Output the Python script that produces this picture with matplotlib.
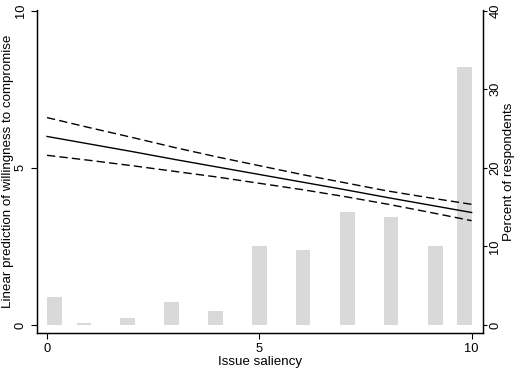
import numpy as np
import matplotlib
matplotlib.use("Agg")
import matplotlib.pyplot as plt

plt.rcParams['font.family'] = ['Liberation Sans', 'DejaVu Sans']

# histogram of issue saliency (percent of respondents), bar centres as drawn
bar_pos = [0.175, 0.87, 1.90, 2.93, 3.97, 5.00, 6.03, 7.07, 8.10, 9.14, 9.825]
pct = [3.6, 0.2, 0.9, 2.9, 1.8, 10.0, 9.6, 14.4, 13.8, 10.0, 32.9]

# linear prediction with confidence band
sal = np.arange(11)
fit = [6.00, 5.76, 5.52, 5.27, 5.03, 4.79, 4.55, 4.31, 4.06, 3.82, 3.58]
upper = [6.60, 6.28, 5.97, 5.65, 5.35, 5.07, 4.79, 4.53, 4.27, 4.05, 3.84]
lower = [5.40, 5.24, 5.07, 4.89, 4.71, 4.51, 4.31, 4.09, 3.85, 3.59, 3.32]

fs = 9.3    # tick labels
lfs = 9.6   # axis titles
fig = plt.figure(figsize=(5.2, 3.74), dpi=100)
ax = fig.add_axes([0.0712, 0.1096, 0.8578, 0.8634])
ax2 = ax.twinx()

# bars behind the lines
ax2.bar(bar_pos, pct, width=0.35, color='#d9d9d9', linewidth=0, zorder=1)
ax2.set_ylim(-1.016, 40.08)
ax2.set_yticks([0, 10, 20, 30, 40])
ax2.set_ylabel('Percent of respondents', fontsize=lfs)
ax2.yaxis.set_label_coords(1.045, 0.5)

ax.set_zorder(ax2.get_zorder() + 1)
ax.patch.set_visible(False)
ax.plot(sal, fit, color='black', lw=1.0)
ax.plot(sal, upper, color='black', lw=1.0, dashes=(6, 3))
ax.plot(sal, lower, color='black', lw=1.0, dashes=(6, 3))
ax.set_xlim(-0.235, 10.27)
ax.set_ylim(-0.254, 10.02)
ax.set_xticks([0, 5, 10])
ax.set_yticks([0, 5, 10])
ax.set_xlabel('Issue saliency', fontsize=lfs)
ax.xaxis.set_label_coords(0.5, -0.072)
ax.set_ylabel('Linear prediction of willingness to compromise', fontsize=lfs)
ax.yaxis.set_label_coords(-0.051, 0.5)

for s in list(ax.spines.values()) + list(ax2.spines.values()):
    s.set_linewidth(0.9)
ax.spines['top'].set_visible(False)
ax2.spines['top'].set_visible(False)
ax.tick_params(direction='out', length=4.3, width=0.8, labelsize=fs, pad=3)
ax2.tick_params(direction='out', length=3, width=0.8, labelsize=fs, pad=1.5)
for lab in ax.get_yticklabels() + ax2.get_yticklabels():
    lab.set_rotation(90)
    lab.set_va('center')

fig.savefig('out.png', dpi=100)
